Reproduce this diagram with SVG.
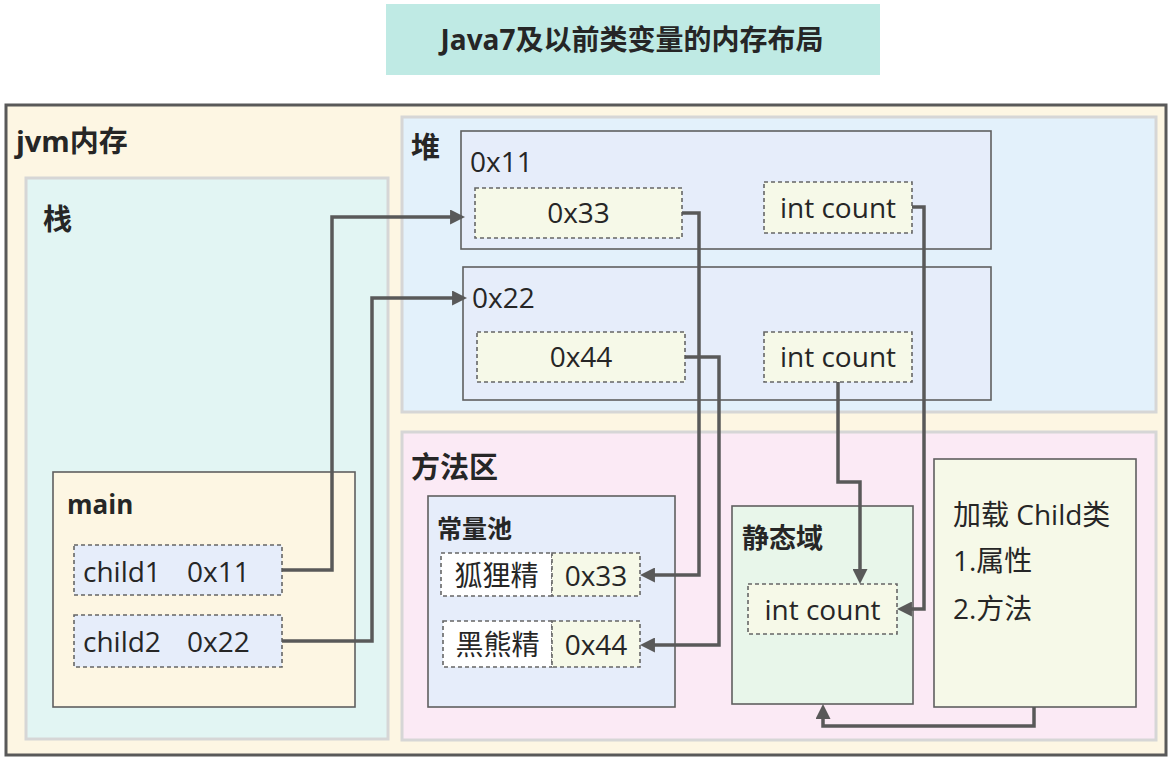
<svg xmlns="http://www.w3.org/2000/svg" width="1174" height="760" viewBox="0 0 1174 760">
<style>
text{font-family:"Open Sans","Noto Sans","Noto Sans CJK SC",sans-serif;fill:#262626}
.t{font-size:28px}
.b{font-weight:bold}
.c{text-anchor:middle}
.region{stroke:#d6d6d6;stroke-width:3}
.box{stroke:#5f5f5f;stroke-width:1.6}
.dash{stroke:#666;stroke-width:1.6;stroke-dasharray:4 3}
.conn{fill:none;stroke:#595959;stroke-width:3.5;stroke-linejoin:miter}
</style>
<defs>
<marker id="arr" viewBox="0 0 10 10" markerWidth="15" markerHeight="15" refX="7.3" refY="5" orient="auto" markerUnits="userSpaceOnUse">
<path d="M0,0 L10,5 L0,10 z" fill="#595959"/>
</marker>
</defs>
<rect width="1174" height="760" fill="#ffffff"/>
<g id="title">
<rect x="386" y="4" width="494" height="71" fill="#bfeae4"/>
<text class="b c" x="632" y="50" font-size="28">Java7及以前类变量的内存布局</text>
</g>
<g id="jvm">
<rect x="6" y="105" width="1160" height="650" fill="#fdf6e3" stroke="#595959" stroke-width="3"/>
<text class="b" x="16" y="152" font-size="29">jvm内存</text>
</g>
<g id="stack">
<rect class="region" x="26" y="178" width="362" height="561" fill="#e2f5f3"/>
<text class="b" x="43" y="230" font-size="29">栈</text>
</g>
<g id="heap">
<rect class="region" x="402" y="117" width="754" height="295" fill="#e3f1fb"/>
<text class="b" x="411" y="158" font-size="29">堆</text>
</g>
<g id="obj11">
<rect class="box" x="461" y="131" width="530" height="118" fill="#e6edfa"/>
<text class="t" x="470" y="172">0x11</text>
</g>
<g id="obj11-ref">
<rect class="dash" x="475" y="188" width="207" height="50" fill="#f6f9e8"/>
<text class="t c" x="578.5" y="223">0x33</text>
</g>
<g id="obj11-count">
<rect class="dash" x="764" y="182" width="148" height="51" fill="#f6f9e8"/>
<text class="t c" x="838" y="218">int count</text>
</g>
<g id="obj22">
<rect class="box" x="463" y="267" width="528" height="133" fill="#e6edfa"/>
<text class="t" x="472" y="308">0x22</text>
</g>
<g id="obj22-ref">
<rect class="dash" x="477" y="332" width="208" height="50" fill="#f6f9e8"/>
<text class="t c" x="581" y="367">0x44</text>
</g>
<g id="obj22-count">
<rect class="dash" x="764" y="332" width="148" height="50" fill="#f6f9e8"/>
<text class="t c" x="838" y="367">int count</text>
</g>
<g id="method-area">
<rect class="region" x="402" y="432" width="754" height="308" fill="#fbeaf5"/>
<text class="b" x="411" y="478" font-size="29">方法区</text>
</g>
<g id="main">
<rect class="box" x="53" y="472" width="302" height="235" fill="#fdf6e3"/>
<text class="b" x="67" y="514" font-size="26">main</text>
</g>
<g id="child1">
<rect class="dash" x="74" y="545" width="208" height="50" fill="#e6edfa"/>
<text class="t" x="83" y="582" xml:space="preserve">child1   <tspan x="187">0x11</tspan></text>
</g>
<g id="child2">
<rect class="dash" x="74" y="615" width="208" height="52" fill="#e6edfa"/>
<text class="t" x="83" y="652" xml:space="preserve">child2   <tspan x="187">0x22</tspan></text>
</g>
<g id="const-pool">
<rect class="box" x="428" y="496" width="247" height="211" fill="#e6edfa"/>
<text class="b" x="437" y="538" font-size="25">常量池</text>
</g>
<g id="fox">
<rect class="dash" x="441" y="553" width="111" height="43" fill="#ffffff"/>
<text class="t c" x="496.5" y="586">狐狸精</text>
<rect class="dash" x="552" y="553" width="88" height="43" fill="#f6f9e8"/>
<text class="t c" x="596" y="586">0x33</text>
</g>
<g id="bear">
<rect class="dash" x="443" y="621" width="109" height="46" fill="#ffffff"/>
<text class="t c" x="497.5" y="655">黑熊精</text>
<rect class="dash" x="552" y="621" width="88" height="46" fill="#f6f9e8"/>
<text class="t c" x="596" y="655">0x44</text>
</g>
<g id="static-area">
<rect class="box" x="732" y="506" width="181" height="198" fill="#e8f6ea"/>
<text class="b" x="742" y="548" font-size="27">静态域</text>
</g>
<g id="static-count">
<rect class="dash" x="748" y="584" width="149" height="50" fill="#f6f9e8"/>
<text class="t c" x="822.5" y="620">int count</text>
</g>
<g id="child-class">
<rect class="box" x="934" y="459" width="202" height="248" fill="#f6f9e8"/>
<text class="t" x="953" y="525">加载 Child类</text>
<text class="t" x="953" y="571">1.属性</text>
<text class="t" x="953" y="619">2.方法</text>
</g>
<g id="connectors">
<path class="conn" d="M282 570 H332 V217 H461" marker-end="url(#arr)"/>
<path class="conn" d="M282 641 H372 V298 H463" marker-end="url(#arr)"/>
<path class="conn" d="M682 213 H699 V575 H644" marker-end="url(#arr)"/>
<path class="conn" d="M685 357 H719 V645 H644" marker-end="url(#arr)"/>
<path class="conn" d="M838 382 V482 H860 V580" marker-end="url(#arr)"/>
<path class="conn" d="M912 207 H924 V609 H901" marker-end="url(#arr)"/>
<path class="conn" d="M1034 707 V726 H823 V708" marker-end="url(#arr)"/>
</g>
</svg>
